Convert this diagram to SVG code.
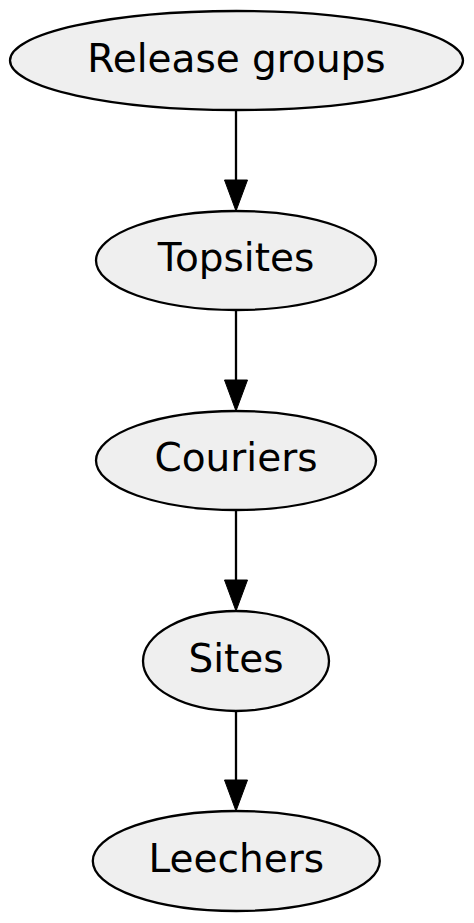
<svg xmlns="http://www.w3.org/2000/svg" width="474" height="923" viewBox="0 0 474 923">
<defs>
<style>
.n ellipse{fill:#efefef;stroke:#000;stroke-width:2.3}
.n text{font-family:"DejaVu Sans",sans-serif;font-size:39px;text-anchor:middle;fill:#000}
.e line{stroke:#000;stroke-width:2.3}
.e path{fill:#000;stroke:#000;stroke-width:1}
</style>
</defs>
<rect width="474" height="923" fill="#fff"/>
<g class="e">
<line x1="236" y1="110" x2="236" y2="180"/>
<path d="M224.5,180 L247.5,180 L236,211 Z"/>
<line x1="236" y1="310" x2="236" y2="380"/>
<path d="M224.5,380 L247.5,380 L236,411 Z"/>
<line x1="236" y1="510" x2="236" y2="580"/>
<path d="M224.5,580 L247.5,580 L236,611 Z"/>
<line x1="236" y1="711" x2="236" y2="780"/>
<path d="M224.5,780 L247.5,780 L236,811 Z"/>
</g>
<g id="n1" class="n"><ellipse cx="236.5" cy="60.5" rx="226.5" ry="49.5"/><text x="236.5" y="71.5">Release groups</text></g>
<g id="n2" class="n"><ellipse cx="236" cy="260.5" rx="140" ry="49.5"/><text x="236" y="271">Topsites</text></g>
<g id="n3" class="n"><ellipse cx="236" cy="460.5" rx="140" ry="49.5"/><text x="236" y="471">Couriers</text></g>
<g id="n4" class="n"><ellipse cx="236" cy="661" rx="93" ry="50"/><text x="236" y="671.5">Sites</text></g>
<g id="n5" class="n"><ellipse cx="236.3" cy="861" rx="143.5" ry="50"/><text x="236.3" y="871.5">Leechers</text></g>
</svg>
